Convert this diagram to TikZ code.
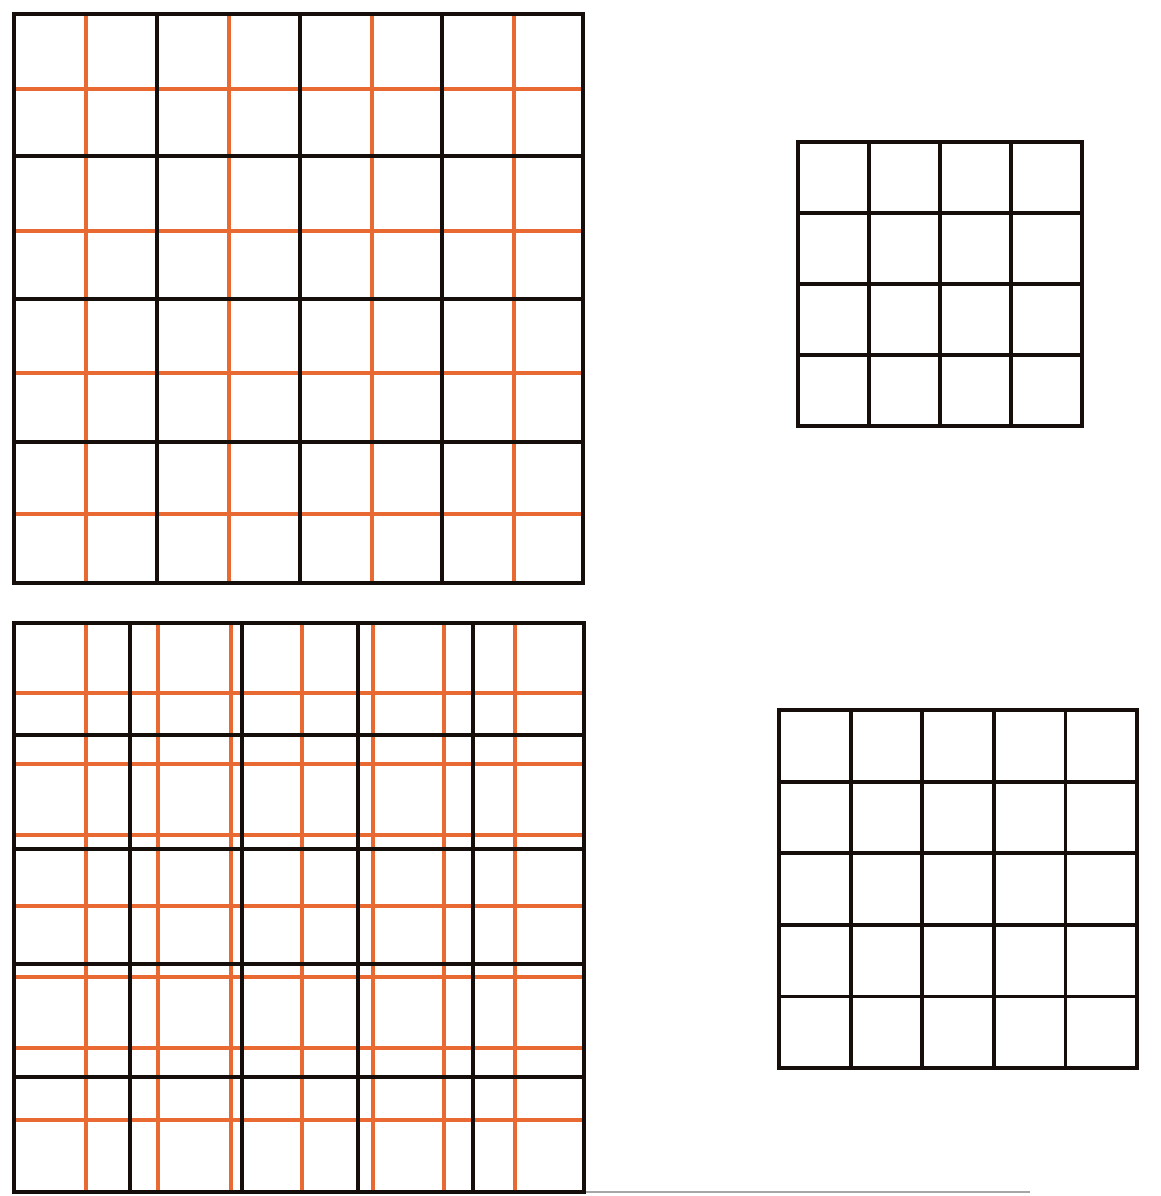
\documentclass[tikz,border=0pt]{standalone}
\definecolor{gridorange}{RGB}{232,106,50}
\definecolor{gridblack}{RGB}{22,14,10}
\tikzset{
  orangeline/.style={draw=gridorange, line width=3.6pt},
  blackline/.style={draw=gridblack, line width=4.4pt, line cap=rect},
  thinblack/.style={draw=gridblack, line width=3.8pt, line cap=rect},
  baseline/.style={draw=black!35, line width=1.8pt}
}
\begin{document}
\begin{tikzpicture}[x=1pt,y=-1pt]
\useasboundingbox[fill=white] (0,0) rectangle (1160,1196);
% ---- top-left: 4x4 black over 8x8 orange
\foreach \xx in {86,229,372,514}
  \draw[orangeline] (\xx,14) -- (\xx,583);
\foreach \yy in {89,231,373,514}
  \draw[orangeline] (14,\yy) -- (583,\yy);
\foreach \xx in {157,300,442}
  \draw[blackline] (\xx,14) -- (\xx,583);
\foreach \yy in {156,299,442}
  \draw[blackline] (14,\yy) -- (583,\yy);
\draw[blackline] (14,14) rectangle (583,583);
% ---- bottom-left: 5x5 black over 8x8 orange
\foreach \xx in {86,158,231,302,373,444,515}
  \draw[orangeline] (\xx,623) -- (\xx,1192);
\foreach \yy in {693,764,835,906,977,1048,1120}
  \draw[orangeline] (14,\yy) -- (584,\yy);
\foreach \xx in {130,242,358,473}
  \draw[thinblack] (\xx,623) -- (\xx,1192);
\foreach \yy in {735,849,964,1077}
  \draw[thinblack] (14,\yy) -- (584,\yy);
\draw[thinblack] (14,623) rectangle (584,1192);
\draw[baseline] (586,1192) -- (1030,1192);
% ---- top-right: 4x4
\foreach \i in {1,2,3} {
  \pgfmathsetmacro{\xx}{798+\i*284/4}
  \pgfmathsetmacro{\yy}{142+\i*284/4}
  \draw[thinblack] (\xx,142) -- (\xx,426);
  \draw[thinblack] (798,\yy) -- (1082,\yy);
}
\draw[thinblack] (798,142) rectangle (1082,426);
% ---- bottom-right: 5x5
\foreach \i in {1,...,4} {
  \pgfmathsetmacro{\xx}{779+\i*358/5}
  \pgfmathsetmacro{\yy}{710+\i*358/5}
  \draw[thinblack] (\xx,710) -- (\xx,1068);
  \draw[thinblack] (779,\yy) -- (1137,\yy);
}
\draw[thinblack] (779,710) rectangle (1137,1068);
\end{tikzpicture}
\end{document}
